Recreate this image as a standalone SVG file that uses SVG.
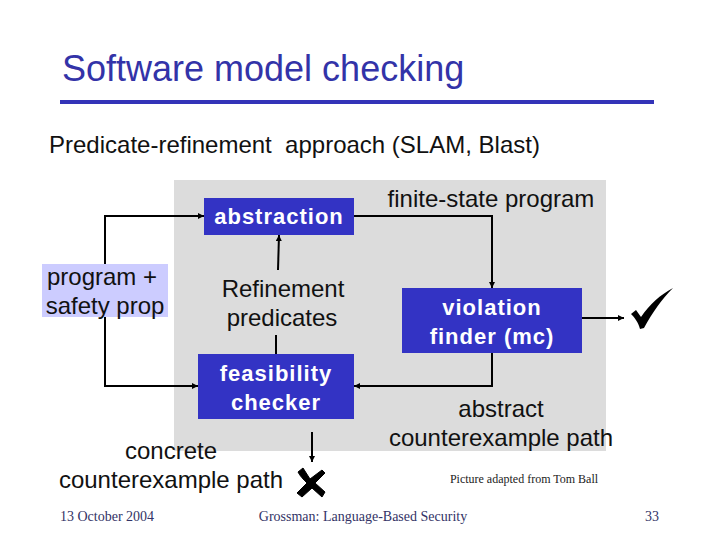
<svg xmlns="http://www.w3.org/2000/svg" width="720" height="540" viewBox="0 0 720 540">
<style>
text{font-family:"Liberation Sans",Arial,sans-serif;font-size:24px;fill:#111;text-anchor:middle}
.w{fill:#fff;font-weight:bold;font-size:22px;letter-spacing:1px}
.s{font-family:"Liberation Serif","Times New Roman",serif;font-size:14px;fill:#333366}
.c{fill:none;stroke:#000;stroke-width:2}
.b{fill:#3333c4}
</style>
<defs><marker id="a" markerUnits="userSpaceOnUse" markerWidth="7" markerHeight="7" refX="6" refY="3" orient="auto"><path d="M0 0L6 3L0 6z" fill="#000"/></marker></defs>
<rect width="720" height="540" fill="#fff"/>
<text x="62" y="81" style="font-size:36px;text-anchor:start;fill:#3333a8">Software model checking</text>
<rect x="60" y="100" width="594" height="4" fill="#3333b8"/>
<text x="49" y="153" style="text-anchor:start" xml:space="preserve">Predicate-refinement  approach (SLAM, Blast)</text>
<rect id="region" x="174" y="180" width="432" height="271" fill="#dcdcdc"/>
<g id="connectors">
<path class="c" marker-end="url(#a)" d="M105 265V216H204"/>
<path class="c" marker-end="url(#a)" d="M105 316V386H198"/>
<path class="c" marker-end="url(#a)" d="M354 216H492V288"/>
<path class="c" marker-end="url(#a)" d="M278 270L279 235"/>
<path class="c" d="M276 335V354"/>
<path class="c" marker-end="url(#a)" d="M492 353V386H354"/>
<path class="c" marker-end="url(#a)" d="M582 318H624"/>
<path class="c" marker-end="url(#a)" d="M312 432V462"/>
</g>
<g id="abstraction"><rect class="b" x="204" y="198" width="150" height="37"/><text class="w" x="279" y="224">abstraction</text></g>
<g id="program"><rect x="42" y="264" width="126" height="53" fill="#ccccff"/><text x="102" y="285">program +</text><text x="105" y="314">safety prop</text></g>
<g id="refinement"><text x="283" y="297">Refinement</text><text x="282" y="326">predicates</text></g>
<g id="feasibility"><rect class="b" x="198" y="354" width="156" height="65"/><text class="w" x="276" y="381">feasibility</text><text class="w" x="276" y="410">checker</text></g>
<g id="finite"><text x="491" y="207">finite-state program</text></g>
<g id="violation"><rect class="b" x="402" y="288" width="180" height="65"/><text class="w" x="492" y="315">violation</text><text class="w" x="492" y="344">finder (mc)</text></g>
<g id="abstract-path"><text x="501" y="417">abstract</text><text x="501" y="446">counterexample path</text></g>
<g id="concrete-path"><text x="171" y="459">concrete</text><text x="171" y="488">counterexample path</text></g>
<path id="check" d="M631 314L636 310L641 317C650 304 660 295 673 288C662 299 652 313 644 328L640 329C638 322 635 318 631 314Z" fill="#000"/>
<path id="cross" d="M298 472L303 468L310 479L322 470L325 473L315 483L325 492L322 497L312 488L302 497L297 493L307 483C303 479 300 476 298 472Z" fill="#000" stroke="#000" stroke-linejoin="round"/>
<text class="s" x="524" y="483" style="font-size:12px;fill:#222">Picture adapted from Tom Ball</text>
<text class="s" x="107" y="521">13 October 2004</text>
<text class="s" x="363" y="521">Grossman: Language-Based Security</text>
<text class="s" x="652" y="521">33</text>
</svg>
